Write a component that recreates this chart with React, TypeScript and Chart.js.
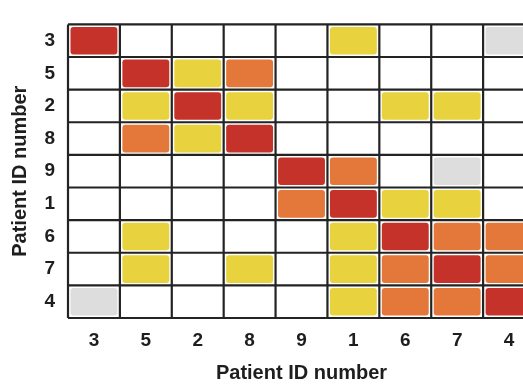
import React, { useEffect, useRef } from 'react';
import { Chart, registerables } from 'chart.js';

Chart.register(...registerables);

// Patient order on both axes
const colLabels = ['3', '5', '2', '8', '9', '1', '6', '7', '4'];
const rowLabels = ['3', '5', '2', '8', '9', '1', '6', '7', '4'];

// Similarity level per cell: 0 none, 1 gray, 2 yellow, 3 orange, 4 red
const row3 = [4, 0, 0, 0, 0, 2, 0, 0, 1];
const row5 = [0, 4, 2, 3, 0, 0, 0, 0, 0];
const row2 = [0, 2, 4, 2, 0, 0, 2, 2, 0];
const row8 = [0, 3, 2, 4, 0, 0, 0, 0, 0];
const row9 = [0, 0, 0, 0, 4, 3, 0, 1, 0];
const row1 = [0, 0, 0, 0, 3, 4, 2, 2, 0];
const row6 = [0, 2, 0, 0, 0, 2, 4, 3, 3];
const row7 = [0, 2, 0, 2, 0, 2, 3, 4, 3];
const row4 = [1, 0, 0, 0, 0, 2, 3, 3, 4];

const matrix = [row3, row5, row2, row8, row9, row1, row6, row7, row4];

const levelColors: Record<number, string> = {
  1: '#dddddd',
  2: '#e8d23e',
  3: '#e4773a',
  4: '#c4322a',
};

const TEXT = '#1e1e1e';
const FONT = 'Liberation Sans, Arial, sans-serif';

const cells = matrix.flatMap((row, ri) =>
  row
    .map((v, ci) => ({ x: colLabels[ci], y: rowLabels[ri], v }))
    .filter((c) => c.v > 0)
);

const heatPlugin = {
  id: 'heatCells',
  beforeDatasetsDraw(chart: any) {
    const { ctx, scales, chartArea } = chart;
    const xs = scales.x;
    const ys = scales.y;
    const cw = (chartArea.right - chartArea.left) / colLabels.length;
    const ch = (chartArea.bottom - chartArea.top) / rowLabels.length;
    ctx.save();
    cells.forEach((c) => {
      const cx = xs.getPixelForValue(colLabels.indexOf(c.x));
      const cy = ys.getPixelForValue(rowLabels.indexOf(c.y));
      const inset = 2.5;
      const w = cw - inset * 2;
      const h = ch - inset * 2;
      ctx.fillStyle = levelColors[c.v];
      ctx.beginPath();
      (ctx as any).roundRect(cx - w / 2, cy - h / 2, w, h, 3);
      ctx.fill();
    });
    // grid lines at cell boundaries
    ctx.strokeStyle = '#232323';
    ctx.lineWidth = 2.2;
    for (let i = 0; i <= colLabels.length; i++) {
      const x = i < colLabels.length ? xs.getPixelForValue(i) - cw / 2 : chartArea.right;
      ctx.beginPath();
      ctx.moveTo(x, chartArea.top);
      ctx.lineTo(x, chartArea.bottom);
      ctx.stroke();
    }
    for (let j = 0; j <= rowLabels.length; j++) {
      const y = j < rowLabels.length ? ys.getPixelForValue(j) - ch / 2 : chartArea.bottom;
      ctx.beginPath();
      ctx.moveTo(chartArea.left, y);
      ctx.lineTo(chartArea.right, y);
      ctx.stroke();
    }
    ctx.restore();
  },
};

export default function App() {
  const ref = useRef<HTMLCanvasElement>(null);
  useEffect(() => {
    if (!ref.current) return;
    const chart = new Chart(ref.current, {
      type: 'scatter',
      data: {
        datasets: [
          {
            data: cells.map((c) => ({ x: c.x, y: c.y })) as any,
            pointRadius: 0,
            pointHoverRadius: 0,
          },
        ],
      },
      options: {
        animation: false,
        responsive: false,
        layout: { padding: { top: 6, right: 5, left: 0, bottom: 0 } },
        plugins: { legend: { display: false }, tooltip: { enabled: false } },
        scales: {
          x: {
            type: 'category',
            labels: colLabels,
            offset: true,
            grid: { display: false, drawTicks: false },
            border: { display: false },
            ticks: {
              color: TEXT,
              padding: 11,
              font: { family: FONT, size: 19, weight: 'bold' },
            },
            title: {
              display: true,
              text: 'Patient ID number',
              color: TEXT,
              padding: 1,
              font: { family: FONT, size: 20, weight: 'bold' },
            },
            afterFit: (s: any) => {
              s.height = 68;
            },
          } as any,
          y: {
            type: 'category',
            labels: rowLabels,
            offset: true,
            grid: { display: false, drawTicks: false },
            border: { display: false },
            ticks: {
              color: TEXT,
              padding: 13,
              font: { family: FONT, size: 19, weight: 'bold' },
            },
            title: {
              display: true,
              text: 'Patient ID number',
              color: TEXT,
              padding: 8,
              font: { family: FONT, size: 20, weight: 'bold' },
            },
            afterFit: (s: any) => {
              s.width = 68;
            },
          } as any,
        },
      },
      plugins: [heatPlugin],
    });
    return () => chart.destroy();
  }, []);
  return (
    <div
      style={{
        position: 'fixed',
        left: 0,
        top: 0,
        width: 523,
        height: 386,
        overflow: 'hidden',
        background: '#ffffff',
      }}
    >
      <canvas ref={ref} width={540} height={386} style={{ display: 'block' }} />
    </div>
  );
}
